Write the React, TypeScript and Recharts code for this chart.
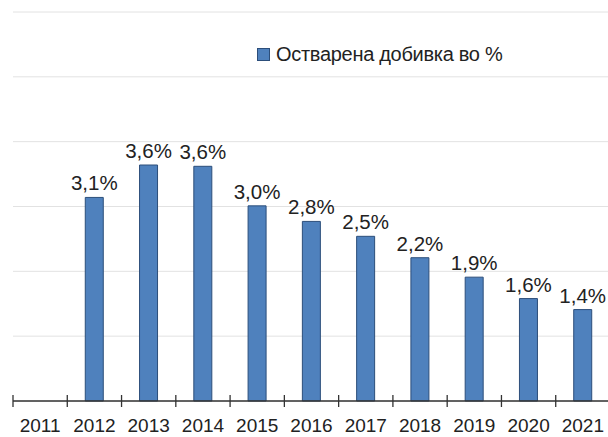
import React from "react";
import {
  BarChart,
  Bar,
  XAxis,
  YAxis,
  CartesianGrid,
  LabelList,
} from "recharts";

// податоци: години и остварена добивка во %
const years = ["2011", "2012", "2013", "2014", "2015", "2016", "2017", "2018", "2019", "2020", "2021"];
const profit: (number | null)[] = [null, 3.14, 3.64, 3.62, 3.01, 2.77, 2.54, 2.21, 1.91, 1.58, 1.41];
const yTicks = [0, 1, 2, 3, 4, 5, 6];
const seriesName = "Остварена добивка во %";

const data = years.map((year, i) => ({ year, value: profit[i] }));

const FONT = "Arial, 'Liberation Sans', sans-serif";
const PLOT_W = 597;
const BAND = PLOT_W / years.length;

const fmt = (v: unknown) =>
  v == null ? "" : `${Number(v).toFixed(1).replace(".", ",")}%`;

// тик на границата од категоријата + ознака за годината
function YearTick(props: any) {
  const { x, y, payload } = props;
  const bx = x - BAND / 2;
  return (
    <g>
      <line x1={bx} x2={bx} y1={y - 6} y2={y + 6} stroke="#333" strokeWidth={1.3} />
      <text x={x} y={y + 31} textAnchor="middle" fontSize={19} fontFamily={FONT} fill="#222">
        {payload.value}
      </text>
    </g>
  );
}

export default function App() {
  return (
    <div
      style={{
        position: "absolute",
        left: 0,
        top: 0,
        width: 608,
        height: 437,
        overflow: "hidden",
        background: "#fff",
      }}
    >
      <BarChart
        width={640}
        height={437}
        data={data}
        margin={{ top: 12, right: 30, left: 13, bottom: 0 }}
      >
        <CartesianGrid vertical={false} stroke="#e2e2e2" strokeWidth={1} />
        <YAxis hide domain={[0, 6]} ticks={yTicks} />
        <XAxis
          dataKey="year"
          height={36}
          tickLine={false}
          tickSize={0}
          tickMargin={0}
          interval={0}
          axisLine={{ stroke: "#333", strokeWidth: 1.5 }}
          tick={<YearTick />}
        />
        <Bar
          dataKey="value"
          name={seriesName}
          fill="#4f81bd"
          stroke="#2c4e7a"
          strokeWidth={1}
          barSize={18}
          isAnimationActive={false}
        >
          <LabelList
            dataKey="value"
            position="top"
            offset={7}
            formatter={fmt}
            style={{ fontSize: 20.5, fontFamily: FONT, fill: "#222" }}
          />
        </Bar>
      </BarChart>

      {/* легенда */}
      <div
        style={{
          position: "absolute",
          left: 257,
          top: 43,
          display: "flex",
          alignItems: "center",
          fontFamily: FONT,
          fontSize: 20,
          letterSpacing: -0.3,
          color: "#222",
          whiteSpace: "nowrap",
        }}
      >
        <span
          style={{
            display: "inline-block",
            width: 11,
            height: 11,
            background: "#4f81bd",
            border: "1px solid #2c4e7a",
            marginRight: 6,
          }}
        />
        <span>{seriesName}</span>
      </div>
    </div>
  );
}
